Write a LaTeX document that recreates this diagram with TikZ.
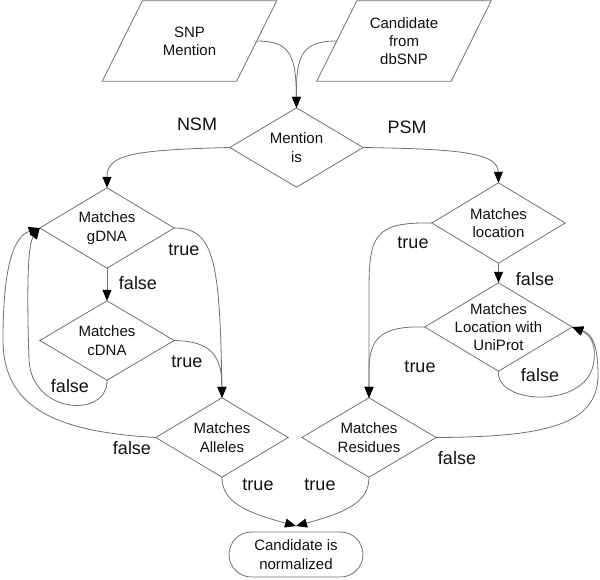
\documentclass[tikz,border=0pt]{standalone}
\usepackage{fontspec}
\setmainfont{Liberation Sans}
\usetikzlibrary{arrows.meta,calc}
\definecolor{linegray}{HTML}{707070}
\definecolor{textc}{HTML}{111111}
\begin{document}
\begin{tikzpicture}[x=1pt,y=-1pt,
  shapeline/.style={draw=linegray,line width=0.8pt},
  box/.style={inner sep=0pt,align=center,font=\fontsize{15}{18.3}\selectfont,text=textc},
  lbl/.style={inner sep=0pt,font=\fontsize{18}{21}\selectfont,text=textc},
  conn/.style={draw=linegray,line width=0.8pt,-{Triangle[length=11pt,width=9pt,color=black]}},
]
\useasboundingbox (0,0) rectangle (600,579);

% nodes
\node[box,minimum width=134pt,minimum height=80pt] (snp) at (189.5,41) {SNP\\Mention};
\node[box,minimum width=134pt,minimum height=80pt] (cand) at (404,41) {Candidate\\from\\dbSNP};
\node[box,minimum width=133pt,minimum height=79pt] (mention) at (296.5,147.5) {Mention\\is};
\node[box,minimum width=134pt,minimum height=80pt] (gdna) at (107,228) {Matches\\gDNA};
\node[box,minimum width=134pt,minimum height=79pt] (cdna) at (107,340.5) {Matches\\cDNA};
\node[box,minimum width=132pt,minimum height=79pt] (alleles) at (222,437.5) {Matches\\Alleles};
\node[box,minimum width=134pt,minimum height=79pt] (residues) at (369,437.5) {Matches\\Residues};
\node[box,minimum width=133pt,minimum height=80pt] (location) at (498.5,223) {Matches\\location};
\node[box,minimum width=147pt,minimum height=88pt] (uniprot) at (498.5,327) {Matches\\Location with\\UniProt};
\node[box,minimum width=134pt,minimum height=45pt,draw=linegray,line width=0.8pt,rounded corners=22.5pt] (norm) at (296,554.5) {Candidate is\\normalized};
\coordinate (meet) at (296,526);

% shapes
\foreach \p in {snp,cand}
  \draw[shapeline] ($(\p.north west)+(20,0)$) -- ($(\p.north east)+(20,0)$) -- ($(\p.south east)+(-20,0)$) -- ($(\p.south west)+(-20,0)$) -- cycle;
\foreach \n in {mention,gdna,cdna,alleles,residues,location,uniprot}
  \draw[shapeline] (\n.north) -- (\n.east) -- (\n.south) -- (\n.west) -- cycle;

% connectors
\draw[conn] (snp.east) .. controls (290,41) and (296,55) .. (mention.north);
\draw[conn] (cand.west) .. controls (302,41) and (296,55) .. (mention.north);
\draw[conn] (mention.west) .. controls (130,150) and (107,155) .. (gdna.north);
\draw[conn] (mention.east) .. controls (455,149) and (498,152) .. (location.north);
\draw[conn] (gdna.south) -- (cdna.north);
\draw[conn] (gdna.east) .. controls (214,228) and (220,260) .. (alleles.north);
\draw[conn] (cdna.east) .. controls (210,341) and (222,355) .. (alleles.north);
\draw[conn] (cdna.south) .. controls (108,418) and (32,415) .. (29,360) .. controls (27,300) and (27,245) .. (gdna.west);
\draw[conn] (alleles.west) .. controls (60,432) and (3,410) .. (3,340) .. controls (3,262) and (15,236) .. (gdna.west);
\draw[conn] (alleles.south) .. controls (222,502) and (245,512) .. (meet);
\draw[conn] (residues.south) .. controls (369,502) and (347,512) .. (meet);
\draw[conn] (location.west) .. controls (375,222) and (369,235) .. (369,290) -- (residues.north);
\draw[conn] (location.south) -- (uniprot.north);
\draw[conn] (uniprot.west) .. controls (385,326) and (369,335) .. (369,370) -- (residues.north);
\draw[conn] (uniprot.south) .. controls (495,405) and (590,410) .. (594,360) .. controls (596,340) and (588,334) .. (uniprot.east);
\draw[conn] (residues.east) .. controls (545,437) and (598,425) .. (598,375) .. controls (598,345) and (592,334) .. (uniprot.east);

% labels
\node[lbl] (nsm) at (197,124) {NSM};
\node[lbl] (psm) at (407,127) {PSM};
\node[lbl] (t1) at (184,250) {true};
\node[lbl] (f1) at (138,283) {false};
\node[lbl] (t2) at (187,362) {true};
\node[lbl] (f2) at (70,386) {false};
\node[lbl] (f3) at (132,448) {false};
\node[lbl] (t3) at (258,485) {true};
\node[lbl] (t4) at (320,485) {true};
\node[lbl] (f4) at (457,458) {false};
\node[lbl] (t5) at (413,243) {true};
\node[lbl] (f5) at (535,279) {false};
\node[lbl] (t6) at (420,367) {true};
\node[lbl] (f6) at (540,375) {false};
\end{tikzpicture}
\end{document}
